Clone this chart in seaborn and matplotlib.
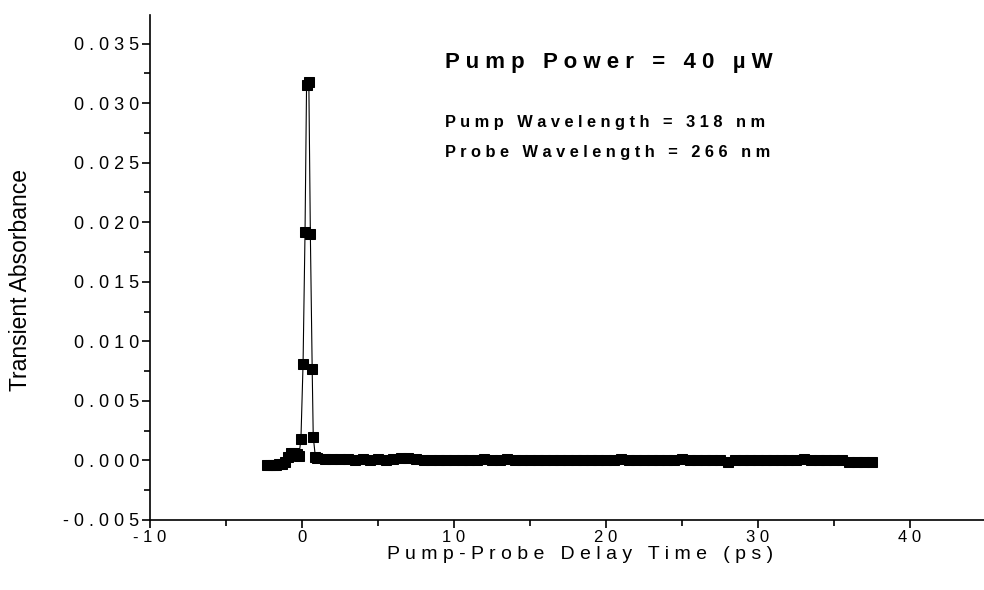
import numpy as np
import pandas as pd
import matplotlib
matplotlib.use("Agg")
import matplotlib.pyplot as plt
import seaborn as sns
from matplotlib.ticker import FixedLocator, FixedFormatter

# ---------------- data ----------------
delay_ps = [
    -2.3, -2.1, -1.9, -1.7, -1.5, -1.3, -1.1, -0.9, -0.7, -0.5, -0.35, -0.2,
    -0.07, 0.07, 0.2, 0.3, 0.45, 0.55, 0.67, 0.74, 0.88,
    1.0, 1.5, 2.0, 2.5, 3.0, 3.5, 4.0, 4.5, 5.0, 5.5, 6.0, 6.5, 7.0, 7.5,
    8.0, 8.5, 9.0, 9.5, 10.0, 10.5, 11.0, 11.5, 12.0, 12.5, 13.0, 13.5,
    14.0, 14.5, 15.0, 15.5, 16.0, 16.5, 17.0, 17.5, 18.0, 18.5, 19.0, 19.5,
    20.0, 20.5, 21.0, 21.5, 22.0, 22.5, 23.0, 23.5, 24.0, 24.5, 25.0, 25.5,
    26.0, 26.5, 27.0, 27.5, 28.0, 28.5, 29.0, 29.5, 30.0, 30.5, 31.0, 31.5,
    32.0, 32.5, 33.0, 33.5, 34.0, 34.5, 35.0, 35.5, 36.0, 36.5, 37.0, 37.5,
]
absorbance = [
    -0.0004, -0.0004, -0.0004, -0.0004, -0.0003, -0.0003, -0.0001, 0.0003, 0.0006, 0.0006, 0.0005, 0.0004,
    0.0018, 0.0081, 0.0192, 0.0315, 0.0318, 0.0190, 0.0077, 0.0020, 0.0003,
    0.0002, 0.0001, 0.0001, 0.0001, 0.0001, 0.0000, 0.0001, 0.0000, 0.0001, 0.0000, 0.0001, 0.0002, 0.0002, 0.0001,
    0.0000, 0.0000, 0.0000, 0.0000, 0.0000, 0.0000, 0.0000, 0.0000, 0.0001, 0.0000, 0.0000, 0.0001,
    0.0000, 0.0000, 0.0000, 0.0000, 0.0000, 0.0000, 0.0000, 0.0000, 0.0000, 0.0000, 0.0000, 0.0000,
    0.0000, 0.0000, 0.0001, 0.0000, 0.0000, 0.0000, 0.0000, 0.0000, 0.0000, 0.0000, 0.0001, 0.0000,
    0.0000, 0.0000, 0.0000, 0.0000, -0.0001, 0.0000, 0.0000, 0.0000, 0.0000, 0.0000, 0.0000, 0.0000,
    0.0000, 0.0000, 0.0001, 0.0000, 0.0000, 0.0000, 0.0000, 0.0000, -0.0001, -0.0001, -0.0001, -0.0001,
]

x_ticks = [-10, 0, 10, 20, 30, 40]
x_ticklabels = ["-10", "0", "10", "20", "30", "40"]
x_minor = [-5, 5, 15, 25, 35]
y_ticks = [-0.005, 0.000, 0.005, 0.010, 0.015, 0.020, 0.025, 0.030, 0.035]
y_ticklabels = ["-0.005", "0.000", "0.005", "0.010", "0.015", "0.020", "0.025", "0.030", "0.035"]
y_minor = [-0.0025, 0.0025, 0.0075, 0.0125, 0.0175, 0.0225, 0.0275, 0.0325]

title_text = "Pump Power = 40 µW"
info_lines = ["Pump Wavelength = 318 nm", "Probe Wavelength = 266 nm"]
x_label = "Pump-Probe Delay Time (ps)"
y_label = "Transient Absorbance"


def spaced(s):
    # emulate the wide letter spacing of the original figure
    return " ".join(list(s))


# ---------------- style ----------------
sns.set_theme(style="ticks")
plt.rcParams["font.family"] = ["Liberation Sans", "DejaVu Sans"]
plt.rcParams["axes.linewidth"] = 1.2

fig = plt.figure(figsize=(9.84, 5.90), dpi=100)
ax = fig.add_axes([150 / 984, 1 - 520 / 590, (984 - 150) / 984, (520 - 15) / 590])

df = pd.DataFrame({"t": delay_ps, "A": absorbance})
sns.lineplot(data=df, x="t", y="A", ax=ax, color="black", linewidth=0.8,
             marker="s", markersize=6.5, markeredgecolor="black",
             sort=False, estimator=None)

ax.set_xlim(-10, 44.87)
ax.set_ylim(-0.005, 0.0374)

ax.xaxis.set_major_locator(FixedLocator(x_ticks))
ax.xaxis.set_major_formatter(FixedFormatter([spaced(s) for s in x_ticklabels]))
ax.xaxis.set_minor_locator(FixedLocator(x_minor))
ax.yaxis.set_major_locator(FixedLocator(y_ticks))
ax.yaxis.set_major_formatter(FixedFormatter([spaced(s) for s in y_ticklabels]))
ax.yaxis.set_minor_locator(FixedLocator(y_minor))

ax.tick_params(axis="both", which="major", direction="out", length=6, width=1.2,
               colors="black")
ax.tick_params(axis="x", which="major", labelsize=12, pad=1)
ax.tick_params(axis="y", which="major", labelsize=13, pad=2)
ax.tick_params(axis="both", which="minor", direction="out", length=4, width=1.2,
               colors="black")

for side in ["top", "right"]:
    ax.spines[side].set_visible(False)
for side in ["left", "bottom"]:
    ax.spines[side].set_color("black")

ax.set_xlabel(spaced(x_label), fontsize=14, color="black")
ax.set_ylabel(y_label, fontsize=16.5, color="black")
ax.xaxis.set_label_coords(0.5156, -0.052)
ax.yaxis.set_label_coords(-0.141, 0.475)

fig.text(445 / 984, 1 - 68 / 590, spaced(title_text), fontsize=16, fontweight="bold",
         ha="left", va="baseline", color="black")
fig.text(445 / 984, 1 - 127 / 590, spaced(info_lines[0]), fontsize=11.8, fontweight="bold",
         ha="left", va="baseline", color="black")
fig.text(445 / 984, 1 - 157 / 590, spaced(info_lines[1]), fontsize=11.8, fontweight="bold",
         ha="left", va="baseline", color="black")

fig.savefig("out.png", dpi=100, facecolor="white")
